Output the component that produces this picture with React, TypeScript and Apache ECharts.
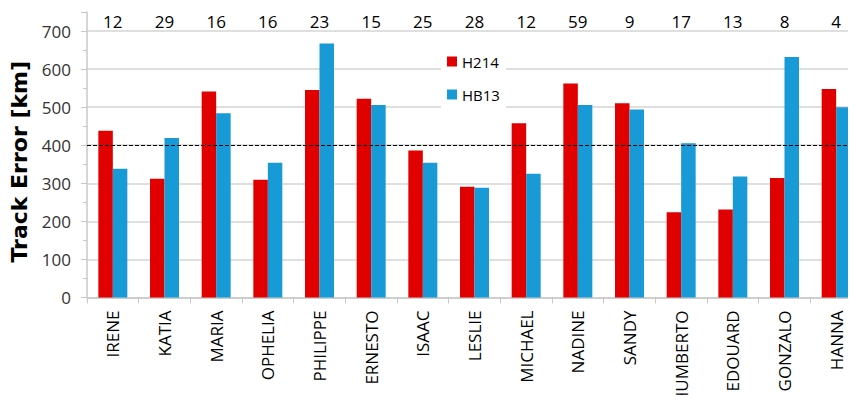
import React, { useEffect, useRef } from "react";
import * as echarts from "echarts";

const storms = ["IRENE", "KATIA", "MARIA", "OPHELIA", "PHILIPPE", "ERNESTO", "ISAAC", "LESLIE", "MICHAEL", "NADINE", "SANDY", "HUMBERTO", "EDOUARD", "GONZALO", "HANNA"];
const counts = ["12", "29", "16", "16", "23", "15", "25", "28", "12", "59", "9", "17", "13", "8", "4"];
const h214 = [438, 312, 541, 309, 545, 522, 386, 291, 458, 562, 510, 224, 231, 314, 548];
const hb13 = [338, 419, 484, 354, 667, 506, 354, 288, 325, 506, 494, 405, 318, 632, 500];
const referenceLine = 400;

export default function App() {
  const ref = useRef<HTMLDivElement>(null);
  useEffect(() => {
    if (!ref.current) return;
    const chart = echarts.init(ref.current, undefined, { renderer: "svg" });
    const tickFont = "'Open Sans', sans-serif";
    chart.setOption({
      animation: false,
      grid: { left: 87, right: -6, top: 12, bottom: 105.5, containLabel: false, outerBoundsMode: "none" },
      legend: {
        data: ["H214", "HB13"],
        orient: "vertical",
        left: 441,
        top: 48,
        itemWidth: 10,
        itemHeight: 10,
        itemGap: 18,
        icon: "rect",
        backgroundColor: "#ffffff",
        padding: [6, 6, 6, 6],
        textStyle: { fontFamily: tickFont, fontSize: 15, color: "#000" },
      },
      xAxis: [
        {
          type: "category",
          data: storms,
          position: "bottom",
          axisLine: { lineStyle: { color: "#c8c8c8", width: 1.5 } },
          axisTick: { show: true, length: 6, lineStyle: { color: "#c8c8c8" } },
          axisLabel: { rotate: 90, fontSize: 17, fontFamily: tickFont, color: "#000", margin: 13, interval: 0 },
        },
        {
          type: "category",
          data: counts,
          position: "top",
          axisLine: { show: false },
          axisTick: { show: false },
          axisLabel: { inside: true, fontSize: 17, fontFamily: tickFont, color: "#000", margin: 1, interval: 0 },
        },
      ],
      yAxis: {
        type: "value",
        min: 0,
        max: 750,
        interval: 100,
        name: "Track Error [km]",
        nameLocation: "middle",
        nameGap: 56,
        nameTextStyle: { fontFamily: "'DejaVu Sans', sans-serif", fontWeight: "bold", fontSize: 22, color: "#000", padding: [0, 14, 0, 0] },
        axisLine: { show: true, lineStyle: { color: "#c8c8c8", width: 1.5 } },
        axisTick: { show: true, length: 6, lineStyle: { color: "#c8c8c8" } },
        minorTick: { show: true, splitNumber: 2, length: 4, lineStyle: { color: "#c8c8c8" } },
        axisLabel: { fontSize: 17, fontFamily: tickFont, color: "#333", margin: 16, showMaxLabel: false },
        splitLine: { show: true, showMaxLine: false, lineStyle: { color: "#d4d4d4", width: 1.5 } },
      },
      series: [
        {
          name: "H214",
          type: "bar",
          data: h214,
          barWidth: 14.5,
          barGap: "0%",
          itemStyle: { color: "#e00000" },
          markLine: {
            silent: true,
            symbol: "none",
            label: { show: false },
            lineStyle: { color: "#000", type: [4, 2], width: 1 },
            data: [{ yAxis: referenceLine }],
          },
        },
        {
          name: "HB13",
          type: "bar",
          data: hb13,
          barWidth: 14.5,
          barGap: "0%",
          itemStyle: { color: "#189ad6" },
        },
      ],
    });
    return () => chart.dispose();
  }, []);
  return <div ref={ref} style={{ width: 856, height: 403, margin: -8 }} />;
}
